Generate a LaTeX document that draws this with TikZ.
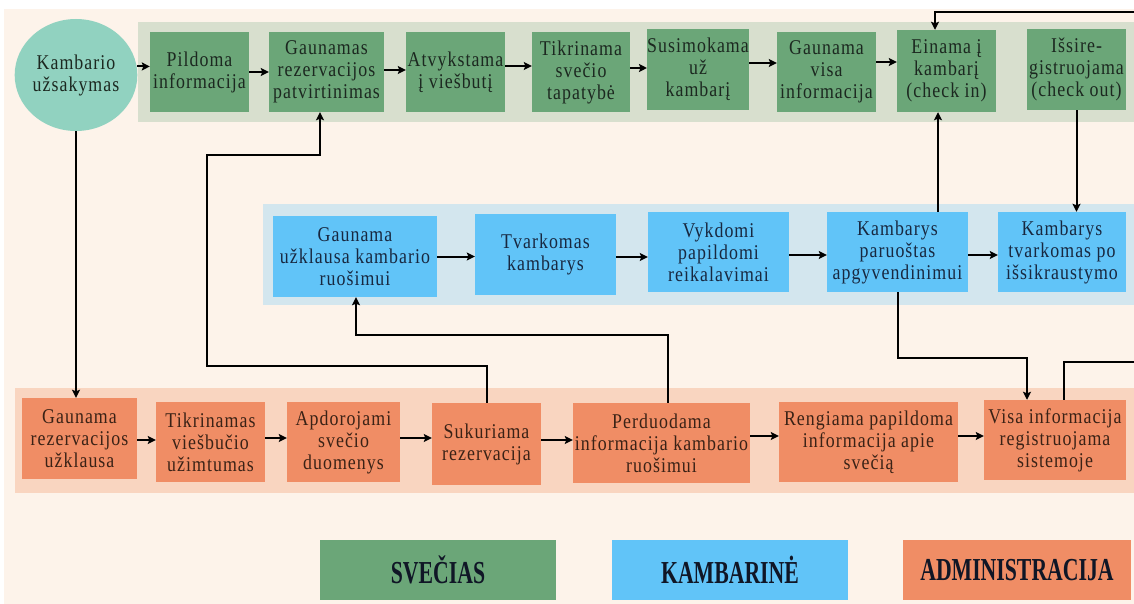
\documentclass[tikz,border=0pt]{standalone}
\usepackage{fontspec}
\setmainfont{Liberation Serif}[LetterSpace=5,FakeStretch=0.85]
\newfontfamily\legfont{Liberation Serif}[FakeStretch=0.68]
\usetikzlibrary{shapes.geometric,arrows.meta,calc}

\definecolor{cream}{RGB}{253,243,234}
\definecolor{gband}{RGB}{216,223,206}
\definecolor{bband}{RGB}{211,230,238}
\definecolor{oband}{RGB}{249,213,192}
\definecolor{gfill}{RGB}{107,166,120}
\definecolor{bfill}{RGB}{97,196,248}
\definecolor{ofill}{RGB}{240,141,101}
\definecolor{cfill}{RGB}{145,210,192}
\definecolor{gtext}{RGB}{28,40,32}
\definecolor{btext}{RGB}{24,40,64}
\definecolor{otext}{RGB}{58,34,22}
\definecolor{ltext}{RGB}{16,22,38}

\newcommand\harr[3]{\draw[arr] ([yshift=#3]#1.east) -- ([yshift=#3]#1.east -| #2.west);}

\begin{document}
\begin{tikzpicture}[x=1pt,y=-1pt,
  box/.style={draw=none, inner sep=0pt, align=center,
    font=\fontsize{21}{22}\selectfont},
  gbox/.style={box, fill=gfill, text=gtext},
  bbox/.style={box, fill=bfill, text=btext},
  obox/.style={box, fill=ofill, text=otext},
  legbox/.style={draw=none, inner sep=0pt, text=ltext,
    minimum height=60pt, font=\legfont\bfseries\fontsize{32}{34}\selectfont},
  arr/.style={line width=2pt, -{Stealth[length=8pt,width=8pt,inset=1.5pt]}},
  ln/.style={line width=2pt}]

\useasboundingbox (0,0) rectangle (1134,604);
\fill[white] (0,0) rectangle (1134,604);
\fill[cream] (4,9) rectangle (1134,604);

% swim lanes
\fill[gband] (138,22) rectangle (1134,122);
\fill[bband] (263,204) rectangle (1134,305);
\fill[oband] (15,388) rectangle (1134,493);

% start
\node[ellipse, fill=cfill, text=gtext, inner sep=0pt, align=center,
  minimum width=100pt, minimum height=112pt,
  font=\fontsize{21}{22}\selectfont] (circ) at (76,75) {Kambario\\užsakymas};

% guest lane
\node[gbox, minimum width=99pt, minimum height=80pt] (g1) at (199.5,72) {Pildoma\\informacija};
\node[gbox, minimum width=115pt, minimum height=80pt] (g2) at (326.5,72) {Gaunamas\\rezervacijos\\patvirtinimas};
\node[gbox, minimum width=99pt, minimum height=80pt] (g3) at (455.5,72) {Atvykstama\\į viešbutį};
\node[gbox, minimum width=98pt, minimum height=80pt] (g4) at (581,72) {Tikrinama\\svečio\\tapatybė};
\node[gbox, minimum width=100pt, minimum height=81pt] (g5) at (698,69.5) {Susimokama\\už\\kambarį};
\node[gbox, minimum width=99pt, minimum height=80pt] (g6) at (826.5,72) {Gaunama\\visa\\informacija};
\node[gbox, minimum width=99pt, minimum height=82pt] (g7) at (946.5,71) {Einama į\\kambarį\\(check in)};
\node[gbox, minimum width=99pt, minimum height=81pt] (g8) at (1076.5,69.5) {Išsire-\\gistruojama\\(check out)};

% housekeeping lane
\node[bbox, minimum width=164pt, minimum height=81pt] (b1) at (355,256.5) {Gaunama\\užklausa kambario\\ruošimui};
\node[bbox, minimum width=141pt, minimum height=81pt] (b2) at (545.5,254.5) {Tvarkomas\\kambarys};
\node[bbox, minimum width=141pt, minimum height=80pt] (b3) at (718.5,252) {Vykdomi\\papildomi\\reikalavimai};
\node[bbox, minimum width=141pt, minimum height=80pt] (b4) at (897.5,252) {Kambarys\\paruoštas\\apgyvendinimui};
\node[bbox, minimum width=128pt, minimum height=80pt] (b5) at (1062,252) {Kambarys\\tvarkomas po\\išsikraustymo};

% administration lane
\node[obox, minimum width=115pt, minimum height=81pt] (o1) at (79.5,438.5) {Gaunama\\rezervacijos\\užklausa};
\node[obox, minimum width=109pt, minimum height=80pt] (o2) at (210.5,442) {Tikrinamas\\viešbučio\\užimtumas};
\node[obox, minimum width=113pt, minimum height=80pt] (o3) at (343.5,442) {Apdorojami\\svečio\\duomenys};
\node[obox, minimum width=109pt, minimum height=82pt] (o4) at (486.5,444) {Sukuriama\\rezervacija};
\node[obox, minimum width=177pt, minimum height=80pt] (o5) at (661.5,443) {Perduodama\\informacija kambario\\ruošimui};
\node[obox, minimum width=179pt, minimum height=80pt] (o6) at (868.5,442) {Rengiama papildoma\\informacija apie\\svečią};
\node[obox, minimum width=142pt, minimum height=80pt] (o7) at (1055,440) {Visa informacija\\registruojama\\sistemoje};

% legend
\node[legbox, fill=gfill, minimum width=236pt] (l1) at (438,570) {SVEČIAS};
\node[legbox, fill=bfill, minimum width=236pt] (l2) at (730,570) {KAMBARINĖ};
\node[legbox, fill=ofill, minimum width=228pt] (l3) at (1017,570) {ADMINISTRACIJA};

% flow inside the lanes
\draw[arr] (circ.8) -- (circ.8 -| g1.west);
\harr{g1}{g2}{0pt}
\harr{g2}{g3}{2pt}
\harr{g3}{g4}{6pt}
\harr{g4}{g5}{4pt}
\harr{g5}{g6}{6.5pt}
\harr{g6}{g7}{10pt}

\harr{b1}{b2}{0pt}
\harr{b2}{b3}{-2.5pt}
\harr{b3}{b4}{-3pt}
\harr{b4}{b5}{-3pt}

\harr{o1}{o2}{-1.5pt}
\harr{o2}{o3}{4pt}
\harr{o3}{o4}{4pt}
\harr{o4}{o5}{4pt}
\harr{o5}{o6}{7pt}
\harr{o6}{o7}{6pt}

% links between the lanes
\coordinate (k1) at (207,366);
\coordinate (k2) at (320,155);
\coordinate (k3) at (356,335);
\coordinate (k4) at (1027,358);
\coordinate (k5) at (935,12);
\coordinate (e1) at (1134,362);
\coordinate (e2) at (1134,12);

\draw[arr] (circ.south) -- (circ.south |- o1.north);
\draw[arr] (o4.north) |- (k1) |- (k2) -- (k2 |- g2.south);
\draw[arr] ([xshift=6.5pt]o5.north) |- (k3) -- (k3 |- b1.south);
\draw[arr] ([xshift=40.5pt]b4.north) -- ([xshift=40.5pt]b4.north |- g7.south);
\draw[arr] (b4.south) |- (k4) -- (k4 |- o7.north);
\draw[ln] ([xshift=9pt]o7.north) |- (e1);
\draw[arr] (e2) -- (k5) -- (k5 |- g7.north);
\draw[arr] (g8.south) -- (g8.south |- b5.north);
\end{tikzpicture}
\end{document}
